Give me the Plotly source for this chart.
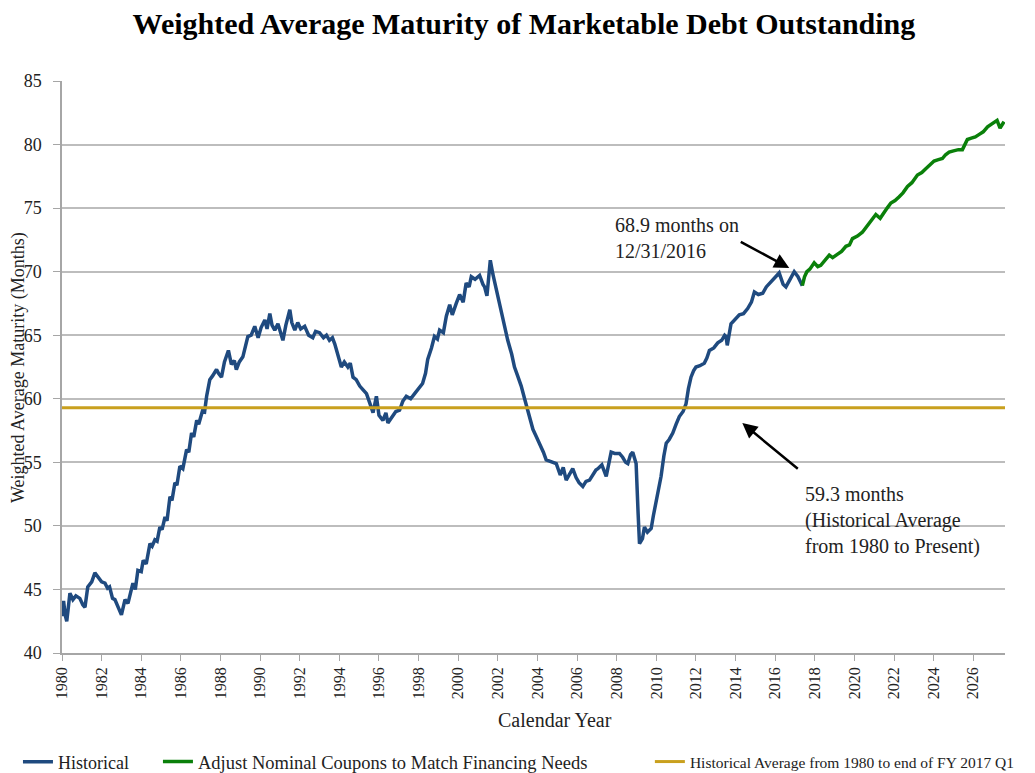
import plotly.graph_objects as go

# ---- data ----
hist_year = [1980.00, 1980.08, 1980.16, 1980.24, 1980.40, 1980.55, 1980.70, 1980.90, 1981.05, 1981.16,
             1981.30, 1981.50, 1981.66, 1981.83, 1982.00, 1982.17, 1982.30, 1982.40, 1982.55, 1982.67,
             1982.85, 1983.00, 1983.18, 1983.33, 1983.58, 1983.70, 1983.83, 1984.00, 1984.10, 1984.25,
             1984.44, 1984.55, 1984.69, 1984.80, 1984.94, 1985.05, 1985.20, 1985.30, 1985.45, 1985.55,
             1985.70, 1985.80, 1985.95, 1986.10, 1986.29, 1986.40, 1986.54, 1986.65, 1986.80, 1986.90,
             1987.10, 1987.20, 1987.30, 1987.46, 1987.60, 1987.80, 1987.90, 1988.05, 1988.20, 1988.40,
             1988.55, 1988.70, 1988.80, 1988.95, 1989.13, 1989.25, 1989.38, 1989.55, 1989.73, 1989.90,
             1990.05, 1990.24, 1990.35, 1990.49, 1990.60, 1990.74, 1990.90, 1991.15, 1991.30, 1991.50,
             1991.60, 1991.75, 1991.90, 1992.05, 1992.25, 1992.45, 1992.66, 1992.80, 1993.00, 1993.20,
             1993.35, 1993.50, 1993.65, 1993.77, 1993.90, 1994.10, 1994.25, 1994.43, 1994.55, 1994.69,
             1994.85, 1995.03, 1995.20, 1995.37, 1995.55, 1995.70, 1995.87, 1996.00, 1996.20, 1996.35,
             1996.45, 1996.60, 1996.70, 1996.85, 1997.04, 1997.20, 1997.38, 1997.60, 1997.80, 1998.00,
             1998.20, 1998.35, 1998.46, 1998.65, 1998.80, 1998.95, 1999.06, 1999.25, 1999.40, 1999.57,
             1999.70, 1999.90, 2000.07, 2000.25, 2000.40, 2000.55, 2000.66, 2000.85, 2001.08, 2001.25,
             2001.33, 2001.45, 2001.62, 2001.75, 2001.92, 2002.05, 2002.25, 2002.50, 2002.70, 2002.84,
             2003.00, 2003.18, 2003.35, 2003.52, 2003.77, 2003.95, 2004.10, 2004.30, 2004.44, 2004.60,
             2004.80, 2004.95, 2005.15, 2005.30, 2005.45, 2005.60, 2005.78, 2005.95, 2006.10, 2006.29,
             2006.45, 2006.63, 2006.80, 2006.95, 2007.05, 2007.25, 2007.47, 2007.60, 2007.72, 2007.90,
             2008.14, 2008.30, 2008.45, 2008.56, 2008.70, 2008.81, 2008.98, 2009.08, 2009.15, 2009.30,
             2009.40, 2009.55, 2009.74, 2009.85, 2009.99, 2010.10, 2010.24, 2010.38, 2010.50, 2010.65,
             2010.83, 2011.00, 2011.16, 2011.35, 2011.50, 2011.62, 2011.75, 2011.88, 2012.00, 2012.20,
             2012.42, 2012.55, 2012.68, 2012.90, 2013.10, 2013.30, 2013.45, 2013.52, 2013.58, 2013.77,
             2013.95, 2014.19, 2014.40, 2014.61, 2014.80, 2014.95, 2015.15, 2015.37, 2015.55, 2015.79,
             2016.00, 2016.20, 2016.40, 2016.54, 2016.75, 2016.96, 2017.15, 2017.37]
hist_wam = [42.9, 44.1, 43.0, 42.5, 44.7, 44.2, 44.5, 44.3, 43.8, 43.6,
            45.2, 45.6, 46.3, 46.0, 45.6, 45.5, 45.1, 45.2, 44.3, 44.2,
            43.5, 43.0, 44.2, 43.9, 45.5, 45.0, 46.5, 46.4, 47.3, 47.0,
            48.6, 48.4, 48.9, 48.8, 49.9, 49.7, 50.7, 50.4, 52.3, 52.0,
            53.4, 53.2, 54.7, 54.5, 56.0, 55.8, 57.3, 57.0, 58.3, 58.0,
            59.1, 59.0, 60.2, 61.5, 61.8, 62.3, 62.0, 61.7, 62.9, 63.8,
            62.7, 63.0, 62.3, 62.9, 63.3, 64.0, 64.9, 65.0, 65.7, 64.8,
            65.6, 66.2, 65.5, 66.7, 65.8, 65.4, 65.9, 64.6, 65.8, 67.0,
            66.0, 65.4, 66.0, 65.5, 65.7, 65.0, 64.8, 65.3, 65.2, 64.8,
            65.0, 64.6, 64.8, 64.3, 63.6, 62.5, 62.9, 62.5, 62.8, 61.7,
            61.5, 61.0, 60.7, 60.4, 59.6, 58.9, 60.2, 58.7, 58.3, 58.9,
            58.1, 58.4, 58.6, 59.0, 59.1, 59.8, 60.2, 60.0, 60.4, 60.8,
            61.2, 62.0, 63.1, 64.0, 64.9, 64.7, 65.4, 65.2, 66.5, 67.4,
            66.6, 67.5, 68.2, 67.6, 69.1, 68.8, 69.6, 69.4, 69.7, 69.0,
            68.8, 68.1, 70.9, 69.8, 68.6, 67.8, 66.5, 64.6, 63.5, 62.5,
            61.8, 61.0, 60.0, 59.1, 57.6, 57.0, 56.5, 55.8, 55.2, 55.1,
            55.0, 54.9, 54.0, 54.6, 53.6, 54.0, 54.5, 53.8, 53.4, 53.1,
            53.5, 53.6, 54.0, 54.4, 54.5, 54.8, 53.9, 55.0, 55.8, 55.7,
            55.7, 55.4, 55.0, 54.9, 55.6, 55.8, 54.9, 51.0, 48.6, 49.0,
            49.9, 49.5, 49.8, 50.8, 51.8, 52.8, 53.9, 55.5, 56.5, 56.8,
            57.3, 58.0, 58.6, 59.0, 59.6, 60.8, 61.7, 62.2, 62.5, 62.6,
            62.8, 63.2, 63.8, 64.0, 64.4, 64.6, 65.0, 64.9, 64.2, 65.9,
            66.2, 66.6, 66.7, 67.1, 67.6, 68.4, 68.2, 68.3, 68.8, 69.2,
            69.5, 69.9, 69.0, 68.8, 69.4, 70.0, 69.6, 68.9]

proj_year = [2017.37, 2017.48, 2017.60, 2017.75, 2017.97, 2018.15, 2018.30, 2018.50, 2018.73, 2018.90,
             2019.15, 2019.35, 2019.57, 2019.75, 2019.90, 2020.15, 2020.40, 2020.60, 2020.85, 2021.08,
             2021.30, 2021.50, 2021.65, 2021.84, 2022.05, 2022.26, 2022.45, 2022.68, 2022.90, 2023.18,
             2023.40, 2023.60, 2023.80, 2024.02, 2024.20, 2024.44, 2024.60, 2024.78, 2025.00, 2025.25,
             2025.45, 2025.55, 2025.70, 2025.90, 2026.10, 2026.30, 2026.50, 2026.72, 2026.90, 2027.05,
             2027.20, 2027.35, 2027.55]
proj_wam = [68.9, 69.6, 70.0, 70.2, 70.7, 70.4, 70.5, 70.9, 71.3, 71.1,
            71.4, 71.6, 72.0, 72.1, 72.6, 72.8, 73.1, 73.5, 74.0, 74.5,
            74.2, 74.6, 75.0, 75.4, 75.6, 75.9, 76.2, 76.7, 77.0, 77.6,
            77.8, 78.1, 78.4, 78.7, 78.8, 78.9, 79.2, 79.4, 79.5, 79.6,
            79.6, 79.9, 80.4, 80.5, 80.6, 80.8, 81.0, 81.4, 81.6, 81.8,
            81.9, 81.3, 81.8]

avg_value = 59.3
avg_span = [1980.0, 2027.6]

x_ticks = list(range(1980, 2027, 2))
y_ticks = [40, 45, 50, 55, 60, 65, 70, 75, 80, 85]

names = ["Historical",
         "Adjust Nominal Coupons to Match Financing Needs",
         "Historical Average from 1980 to end of FY 2017 Q1"]

# ---- styling ----
BLUE = "#1F4A7F"
GREEN = "#0A800A"
GOLD = "#C9A01E"
SERIF = "Liberation Serif, Times New Roman, serif"

fig = go.Figure()
fig.add_trace(go.Scatter(x=hist_year, y=hist_wam, mode="lines", name=names[0], legend="legend",
                         line=dict(color=BLUE, width=3.5)))
fig.add_trace(go.Scatter(x=proj_year, y=proj_wam, mode="lines", name=names[1], legend="legend2",
                         line=dict(color=GREEN, width=3.5)))
fig.add_trace(go.Scatter(x=avg_span, y=[avg_value, avg_value], mode="lines", name=names[2],
                         legend="legend3", line=dict(color=GOLD, width=3)))


def legend_box(x, size):
    return dict(orientation="h", xref="container", yref="container",
                x=x, xanchor="left", y=0.0144, yanchor="middle",
                font=dict(family=SERIF, size=size, color="#222222"),
                itemwidth=30, bgcolor="rgba(0,0,0,0)")


# the page body adds an 8px offset, so the figure is 8px smaller and margins shifted
fig.update_layout(
    width=1027, height=765,
    margin=dict(l=54, r=30, t=73, b=120, autoexpand=False),
    paper_bgcolor="white", plot_bgcolor="white",
    font=dict(family=SERIF, size=16, color="#222222"),
    title=dict(text="<b>Weighted Average Maturity of Marketable Debt Outstanding</b>",
               x=0.5024, xanchor="center", y=0.9795, yanchor="middle",
               font=dict(family=SERIF, size=30, color="#000000")),
    showlegend=True,
    legend=legend_box(0.0097, 18),
    legend2=legend_box(0.146, 18.5),
    legend3=legend_box(0.625, 15.5),
)

fig.update_xaxes(range=[1980, 2027.6], tickvals=x_ticks, ticktext=[str(t) for t in x_ticks],
                 tickangle=-90, showgrid=False, showline=True, linecolor="#a6a6a6", linewidth=1.5,
                 ticks="outside", ticklen=6, tickcolor="#a6a6a6", tickwidth=1.2, automargin=False,
                 tickfont=dict(family=SERIF, size=16, color="#222222"), zeroline=False)
fig.update_yaxes(range=[40, 85], tickvals=y_ticks, showgrid=True, gridcolor="#bdbdbd", gridwidth=1.5,
                 showline=True, linecolor="#a6a6a6", linewidth=1.5, automargin=False,
                 ticks="outside", ticklen=7, tickcolor="#a6a6a6", tickwidth=1.2, ticklabelstandoff=8,
                 tickfont=dict(family=SERIF, size=18, color="#222222"), zeroline=False)

annotations = [
    dict(text="Weighted Average Maturity (Months)", xref="paper", yref="paper",
         x=-0.0467, y=0.5, xanchor="center", yanchor="middle", textangle=-90, showarrow=False,
         font=dict(family=SERIF, size=18, color="#222222")),
    dict(text="Calendar Year", xref="paper", yref="paper", x=0.523, y=-0.117,
         xanchor="center", yanchor="middle", showarrow=False,
         font=dict(family=SERIF, size=20, color="#222222")),
    # arrow to the last historical point
    dict(x=2016.71, y=70.29, xref="x", yref="y", ax=-50, ay=-27, axref="pixel", ayref="pixel",
         showarrow=True, arrowhead=2, arrowsize=1.2, arrowwidth=2.5, arrowcolor="#000000", text=""),
    dict(text="68.9 months on<br>12/31/2016", x=2007.79, y=74.7, xref="x", yref="y",
         xanchor="left", yanchor="top", align="left", showarrow=False,
         font=dict(family=SERIF, size=20, color="#222222")),
    # arrow to the average line
    dict(x=2014.34, y=58.09, xref="x", yref="y", ax=57, ay=47, axref="pixel", ayref="pixel",
         showarrow=True, arrowhead=2, arrowsize=1.2, arrowwidth=2.5, arrowcolor="#000000", text=""),
    dict(text="59.3 months<br>(Historical Average<br>from 1980 to Present)", x=2017.42, y=53.5,
         xref="x", yref="y", xanchor="left", yanchor="top", align="left", showarrow=False,
         font=dict(family=SERIF, size=20, color="#222222")),
]
fig.update_layout(annotations=annotations)

fig.write_html("out.html")
